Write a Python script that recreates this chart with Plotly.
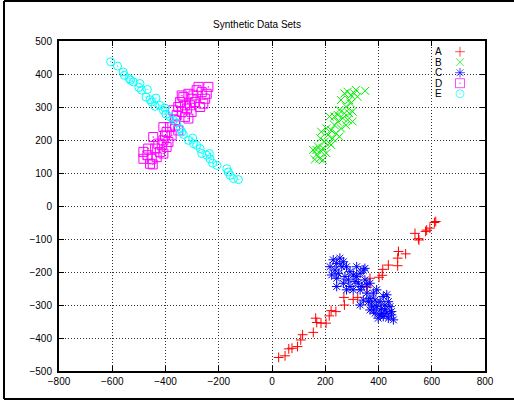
import plotly.graph_objects as go

# ---- data ----
a_x = [25, 49, 63, 75, 96, 108, 115, 155, 164, 168, 184, 203, 215, 222, 240, 270, 272, 305, 322, 358,
       368, 402, 414, 416, 437, 472, 472, 475, 502, 537, 550, 552, 577, 581, 593, 610, 615]
a_y = [-459, -454, -433, -431, -426, -406, -390, -383, -340, -353, -355, -355, -333, -317, -320, -277, -300,
       -283, -277, -246, -219, -216, -210, -192, -179, -181, -158, -138, -145, -83, -99, -103, -77, -73, -67, -50, -47]

b_x = [161, 154, 167, 179, 185, 173, 191, 204, 182, 198, 216, 210, 228, 222, 241, 253, 235, 247, 216, 259,
       266, 272, 253, 278, 284, 290, 296, 303, 259, 272, 284, 296, 309, 315, 321, 350, 290, 303, 278, 247,
       235, 204, 185, 222, 167, 191]
b_y = [141, 170, 155, 144, 165, 180, 175, 160, 205, 195, 190, 215, 205, 230, 220, 210, 245, 256, 271, 235,
       266, 281, 291, 301, 261, 281, 311, 286, 321, 341, 346, 336, 341, 352, 331, 349, 321, 256, 245, 276,
       271, 235, 225, 185, 170, 139]

c_x = [218, 230, 243, 255, 268, 237, 224, 249, 262, 280, 243, 274, 293, 305, 287, 312, 293, 318, 331, 343,
       324, 337, 349, 356, 331, 305, 280, 243, 268, 368, 349, 318,
       356, 368, 381, 393, 387, 374, 362, 393, 406, 418, 431, 437, 424, 412, 443, 449, 431, 418, 406, 387,
       381, 399, 437, 456, 449, 343, 331, 368, 412, 424]
c_y = [-184, -163, -174, -158, -169, -194, -209, -204, -184, -184, -219, -214, -199, -209, -224, -229, -244,
       -214, -204, -194, -234, -244, -224, -239, -254, -254, -254, -244, -234, -234, -189, -184,
       -264, -280, -264, -254, -285, -300, -290, -305, -290, -274, -269, -290, -300, -310, -305, -320, -325,
       -335, -330, -325, -315, -340, -340, -345, -330, -285, -300, -315, -325, -315]

d_x = [-483, -468, -452, -439, -458, -433, -421, -414, -427, -446, -408, -396, -389, -402, -408, -483, -465,
       -448, -408, -396, -383, -364, -371, -352, -345, -358, -339, -327, -314, -320, -308, -302, -333, -314,
       -295, -283, -276, -264, -251, -245, -239, -258, -270, -289, -302, -327, -339, -364, -352, -377]
d_y = [164, 154, 143, 174, 128, 148, 164, 184, 189, 209, 199, 179, 194, 214, 159, 143, 174, 126, 239, 224,
       239, 260, 290, 300, 315, 275, 285, 270, 265, 295, 305, 325, 330, 340, 335, 351, 361, 345, 325, 340,
       361, 310, 300, 315, 285, 305, 335, 244, 229, 214]

e_x = [-606, -580, -559, -555, -536, -531, -521, -496, -500, -490, -468, -473, -458, -452, -436, -421, -439,
       -408, -402, -398, -383, -371, -358, -345, -339, -333, -314, -298, -295, -283, -270, -264, -245, -235,
       -233, -223, -207, -170, -164, -157, -145, -126]
e_y = [437, 424, 406, 396, 386, 381, 376, 371, 359, 351, 353, 330, 322, 315, 327, 305, 302, 290, 297, 278,
       270, 260, 252, 234, 224, 217, 199, 206, 189, 184, 174, 159, 154, 159, 143, 130, 123, 113, 103, 93, 83, 80]

series_names = ["A", "B", "C", "D", "E"]
x_ticks = [-800, -600, -400, -200, 0, 200, 400, 600, 800]
y_ticks = [-500, -400, -300, -200, -100, 0, 100, 200, 300, 400, 500]

# ---- styles ----
colors = ["#ff0000", "#00ee00", "#0000ff", "#ff00ff", "#00ffff"]
symbols = ["cross-thin-open", "x-thin-open", "asterisk-open", "square-open-dot", "circle-open-dot"]
sizes = [7, 8, 8, 9, 8]

fig = go.Figure()
data = [(a_x, a_y), (b_x, b_y), (c_x, c_y), (d_x, d_y), (e_x, e_y)]
for i, (xs, ys) in enumerate(data):
    fig.add_trace(go.Scatter(
        x=xs, y=ys, mode="markers", name=series_names[i], showlegend=False,
        marker=dict(symbol=symbols[i], size=sizes[i], color=colors[i],
                    line=dict(width=1, color=colors[i])),
    ))

# custom legend (text left of symbol, like gnuplot) on a pixel-mapped overlay axis
leg_y = [51.7, 62.2, 72.7, 83.2, 93.7]
fig.add_trace(go.Scatter(
    x=[460] * 5, y=leg_y, mode="markers", showlegend=False, hoverinfo="skip",
    xaxis="x2", yaxis="y2",
    marker=dict(symbol=symbols, size=sizes, color=colors, line=dict(width=1, color=colors)),
))
for i, name in enumerate(series_names):
    fig.add_annotation(x=438, y=leg_y[i], xref="x2", yref="y2", text=name, showarrow=False,
                       xanchor="center", yanchor="middle", borderpad=0,
                       font=dict(family="Liberation Sans, Arial", size=10, color="black"))

axis_common = dict(
    showgrid=True, gridcolor="#333", griddash="1px,2px", gridwidth=1,
    zeroline=False, showline=True, linecolor="black", linewidth=2, mirror="allticks",
    ticks="inside", ticklen=5, tickcolor="black", tickwidth=1,
    tickfont=dict(family="Liberation Sans, Arial", size=10, color="black"),
)

# outer frame: top, left and bottom edges (right edge lies outside the page)
fx0, fx1 = (4 - 59) / 426, (560 - 59) / 426
fy0, fy1 = -(399 - 371) / 330, 1 + (41 - 1) / 330
frame = [
    dict(type="line", xref="paper", yref="paper", x0=fx0, x1=fx1, y0=fy1, y1=fy1),
    dict(type="line", xref="paper", yref="paper", x0=fx0, x1=fx0, y0=fy0, y1=fy1),
    dict(type="line", xref="paper", yref="paper", x0=fx0, x1=fx1, y0=fy0, y1=fy0),
]
for s in frame:
    s["line"] = dict(color="black", width=2)
    s["layer"] = "below"

fig.update_layout(
    width=514, height=404,
    margin=dict(l=59, r=29, t=41, b=33),
    paper_bgcolor="white", plot_bgcolor="white",
    title=dict(text="Synthetic Data Sets", x=0.5, xanchor="center", y=1 - 24 / 404, yanchor="middle",
               font=dict(family="Liberation Sans, Arial", size=10, color="black")),
    xaxis=dict(range=[-800, 800], tickvals=x_ticks, **axis_common),
    yaxis=dict(range=[-500, 500], tickvals=y_ticks, ticklabelstandoff=3, **axis_common),
    xaxis2=dict(range=[59, 485], overlaying="x", visible=False, fixedrange=True),
    yaxis2=dict(range=[371, 41], overlaying="y", visible=False, fixedrange=True),
    shapes=frame,
)

fig.write_html("out.html")
